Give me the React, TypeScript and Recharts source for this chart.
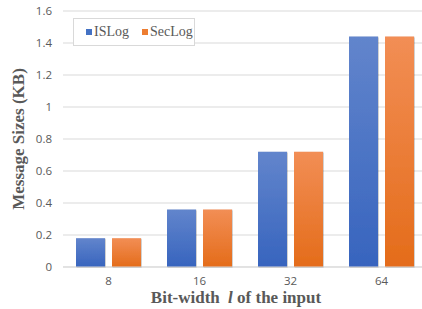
import React from 'react';
import { BarChart, Bar, XAxis, YAxis, CartesianGrid, Legend } from 'recharts';

const categories = ['8', '16', '32', '64'];
const isLogValues = [0.18, 0.36, 0.72, 1.44];
const secLogValues = [0.18, 0.36, 0.72, 1.44];
const yTicks = [0, 0.2, 0.4, 0.6, 0.8, 1, 1.2, 1.4, 1.6];

const data = categories.map((c, i) => ({ name: c, ISLog: isLogValues[i], SecLog: secLogValues[i] }));

const SERIF = '"Liberation Serif", "Times New Roman", serif';
const SANS = '"Open Sans", "Liberation Sans", sans-serif';
const GREY_TEXT = '#595959';

const renderLegend = () => (
  <div
    style={{
      boxSizing: 'border-box',
      width: 122,
      height: 28,
      border: '1px solid #d9d9d9',
      background: '#ffffff',
      display: 'flex',
      alignItems: 'center',
      paddingLeft: 12,
      fontFamily: SERIF,
      fontSize: 14,
      color: GREY_TEXT,
    }}
  >
    <span style={{ display: 'inline-block', width: 6, height: 6, background: '#4472c4', marginRight: 2 }} />
    <span>ISLog</span>
    <span style={{ display: 'inline-block', width: 6, height: 6, background: '#ed7d31', marginLeft: 13, marginRight: 2 }} />
    <span>SecLog</span>
  </div>
);

const XTitle = (props: any) => {
  const vb = props.viewBox || { x: 0, y: 0, width: 0, height: 0 };
  return (
    <text
      x={vb.x + vb.width / 2 - 9}
      y={vb.y + 36}
      textAnchor="middle"
      fontFamily={SERIF}
      fontSize={17}
      fontWeight="bold"
      fill={GREY_TEXT}
    >
      <tspan>Bit-width </tspan>
      <tspan dx={4} fontStyle="italic">l</tspan>
      <tspan> of the input</tspan>
    </text>
  );
};

const YTitle = (props: any) => {
  const vb = props.viewBox || { x: 0, y: 0, width: 0, height: 0 };
  const cx = vb.x + 18;
  const cy = vb.y + vb.height / 2;
  return (
    <text
      x={cx}
      y={cy}
      transform={`rotate(-90 ${cx} ${cy})`}
      textAnchor="middle"
      dominantBaseline="central"
      fontFamily={SERIF}
      fontSize={17}
      fontWeight="bold"
      fill={GREY_TEXT}
    >
      Message Sizes (KB)
    </text>
  );
};

export default function App() {
  return (
    <div style={{ position: 'absolute', left: 0, top: 0, width: 422, height: 309, overflow: 'hidden', background: '#fff' }}>
      <BarChart
        width={430}
        height={309}
        data={data}
        margin={{ top: 11, right: 3, left: 0, bottom: 0 }}
        barGap={7}
        barSize={29}
      >
        <defs>
          <linearGradient id="gradBlue" x1="0" y1="0" x2="0" y2="1">
            <stop offset="0%" stopColor="#6285cc" />
            <stop offset="100%" stopColor="#3764be" />
          </linearGradient>
          <linearGradient id="gradOrange" x1="0" y1="0" x2="0" y2="1">
            <stop offset="0%" stopColor="#f28e55" />
            <stop offset="100%" stopColor="#e46c1a" />
          </linearGradient>
          <filter id="barShadow" x="-20%" y="-20%" width="140%" height="140%">
            <feDropShadow dx="0.6" dy="0.6" stdDeviation="0.7" floodColor="#000" floodOpacity="0.3" />
          </filter>
        </defs>
        <CartesianGrid vertical={false} stroke="#d9d9d9" strokeWidth={1} />
        <XAxis
          dataKey="name"
          height={42}
          axisLine={{ stroke: '#d9d9d9' }}
          tickLine={false}
          tickMargin={4}
          tick={{ fontFamily: SANS, fontSize: 11.5, fill: GREY_TEXT }}
          label={{ content: XTitle }}
        />
        <YAxis
          width={63}
          domain={[0, 1.6]}
          ticks={yTicks}
          interval={0}
          axisLine={false}
          tickLine={false}
          tickMargin={5}
          tickFormatter={(v: number) => String(v)}
          tick={{ fontFamily: SANS, fontSize: 11.5, fill: GREY_TEXT }}
          label={{ content: YTitle }}
        />
        <Legend
          content={renderLegend}
          layout="vertical"
          align="center"
          verticalAlign="middle"
          wrapperStyle={{ top: 18, left: 73, width: 122, height: 28 }}
        />
        <Bar dataKey="ISLog" fill="url(#gradBlue)" filter="url(#barShadow)" isAnimationActive={false} />
        <Bar dataKey="SecLog" fill="url(#gradOrange)" filter="url(#barShadow)" isAnimationActive={false} />
      </BarChart>
    </div>
  );
}
